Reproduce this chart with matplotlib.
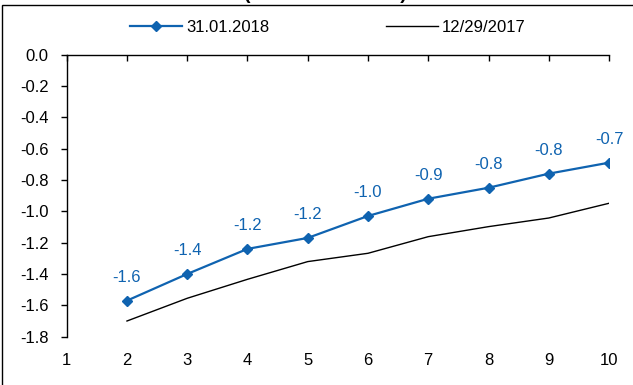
import matplotlib.pyplot as plt
from matplotlib.patches import Rectangle

plt.rcParams['font.family'] = ['Liberation Sans', 'DejaVu Sans']

# maturities (years) and the two curves
maturity = [2, 3, 4, 5, 6, 7, 8, 9, 10]
curve_jan = [-1.57, -1.40, -1.24, -1.17, -1.03, -0.92, -0.85, -0.76, -0.69]
curve_dec = [-1.70, -1.555, -1.434, -1.321, -1.268, -1.162, -1.098, -1.043, -0.949]
label_jan = '31.01.2018'
label_dec = '12/29/2017'
yticks = [0.0, -0.2, -0.4, -0.6, -0.8, -1.0, -1.2, -1.4, -1.6, -1.8]
xticks = list(range(1, 11))

blue = '#0F63B0'
fs = 12

fig = plt.figure(figsize=(6.33, 3.85), dpi=100)
ax = fig.add_axes([0.1054, 0.1255, 0.8567, 0.7329])

ax.plot(maturity, curve_jan, color=blue, lw=1.6, marker='D', ms=5, label=label_jan)
ax.plot(maturity, curve_dec, color='black', lw=1.0, label=label_dec)

for x, v in zip(maturity, curve_jan):
    ax.annotate(f'{v:.1f}', (x, v), xytext=(0, 17), textcoords='offset points',
                ha='center', va='center', color=blue, fontsize=fs)

ax.set_xlim(1, 10)
ax.set_ylim(-1.8, 0)
ax.set_xticks(xticks)
ax.set_yticks(yticks)
ax.set_yticklabels([f'{t:.1f}' for t in yticks])

# x axis sits at zero (top), labels stay at the bottom
ax.spines['right'].set_visible(False)
ax.spines['bottom'].set_visible(False)
ax.spines['top'].set_linewidth(1.0)
ax.spines['left'].set_linewidth(1.0)
ax.tick_params(axis='x', top=True, bottom=False, labeltop=False, labelbottom=True,
               direction='in', length=4, width=1, pad=12, labelsize=fs)
ax.tick_params(axis='y', direction='out', length=4, width=1, pad=9, labelsize=fs)

fig.legend(loc='center', bbox_to_anchor=(328 / 633, 1 - 27 / 385), ncol=2,
           frameon=False, fontsize=fs, handlelength=3.1, handletextpad=0.25,
           columnspacing=7.0, borderpad=0)

# outer frame and the clipped heading above it
fig.patches.append(Rectangle((2 / 633, -0.1), 1.2, 1 - 5 / 385 + 0.1,
                             transform=fig.transFigure, fill=False,
                             edgecolor='black', lw=1.0))
fig.text(325 / 633, 1 + 1 / 385, '(annual rate in %)', ha='center', va='baseline',
         fontsize=14, fontweight='bold')

fig.savefig('out.png', dpi=100)
